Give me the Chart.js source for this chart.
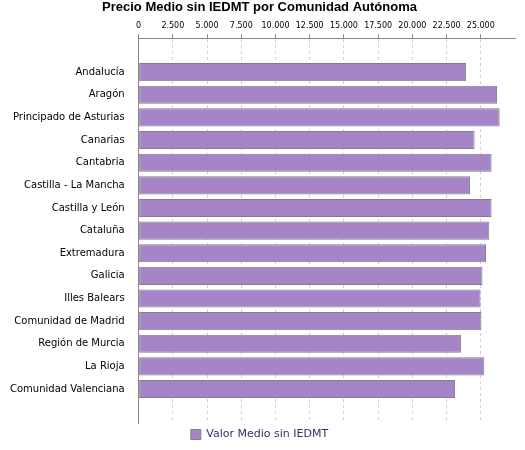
<!DOCTYPE html>
<html lang="es">
<head>
<meta charset="UTF-8">
<script src="https://cdn.jsdelivr.net/npm/chart.js"></script>
<style>
  body { margin: 0; background: #fff; }
  #wrap { width: 525px; height: 450px; }
</style>
</head>
<body>
<div id="wrap"><canvas id="grafico"></canvas></div>
<script>
const comunidades = [
  'Andalucía', 'Aragón', 'Principado de Asturias', 'Canarias', 'Cantabria',
  'Castilla - La Mancha', 'Castilla y León', 'Cataluña', 'Extremadura', 'Galicia',
  'Illes Balears', 'Comunidad de Madrid', 'Región de Murcia', 'La Rioja', 'Comunidad Valenciana'
];
const valorMedio = [
  23930, 26190, 26380, 24550, 25790,
  24210, 25790, 25620, 25380, 25120,
  24980, 25050, 23550, 25260, 23120
];
const ticksX = [0, 2500, 5000, 7500, 10000, 12500, 15000, 17500, 20000, 22500, 25000];

function fmt(v) {
  return v.toString().replace(/\B(?=(\d{3})+(?!\d))/g, '.');
}

// huecos vacíos arriba y abajo, como en el original
const etiquetas = [''].concat(comunidades, ['']);
const valores = [null].concat(valorMedio, [null]);

new Chart(document.getElementById('grafico'), {
  type: 'bar',
  data: {
    labels: etiquetas,
    datasets: [{
      label: 'Valor Medio sin IEDMT',
      data: valores,
      backgroundColor: '#a585c8',
      borderColor: '#808080',
      borderWidth: 1,
      borderSkipped: false,
      categoryPercentage: 1,
      barPercentage: 0.8
    }]
  },
  options: {
    indexAxis: 'y',
    responsive: true,
    maintainAspectRatio: false,
    animation: false,
    layout: { padding: { left: 4, right: 10, top: 0, bottom: 0 } },
    plugins: {
      title: {
        display: true,
        text: 'Precio Medio sin IEDMT por Comunidad Autónoma',
        color: '#000',
        font: { family: 'Liberation Sans', size: 13, weight: 'bold' },
        padding: { top: 0, bottom: 3 }
      },
      legend: {
        position: 'bottom',
        labels: {
          color: '#3a2a6a',
          boxWidth: 10,
          boxHeight: 10,
          padding: 6,
          font: { family: 'DejaVu Sans', size: 11 }
        }
      },
      tooltip: { enabled: false }
    },
    scales: {
      x: {
        position: 'top',
        min: 0,
        max: 27500,
        afterBuildTicks: (axis) => { axis.ticks = ticksX.map(v => ({ value: v })); },
        grid: { color: '#d0d0d0', tickLength: 4, tickColor: '#888' },
        border: { display: true, color: '#888', dash: [3, 3] },
        ticks: {
          color: '#000',
          font: { family: 'DejaVu Sans', size: 8 },
          maxRotation: 0,
          callback: v => fmt(v)
        }
      },
      y: {
        grid: { display: false },
        border: { color: '#888' },
        ticks: {
          color: '#000',
          font: { family: 'DejaVu Sans', size: 10 },
          padding: 6
        }
      }
    }
  }
});
</script>
</body>
</html>
